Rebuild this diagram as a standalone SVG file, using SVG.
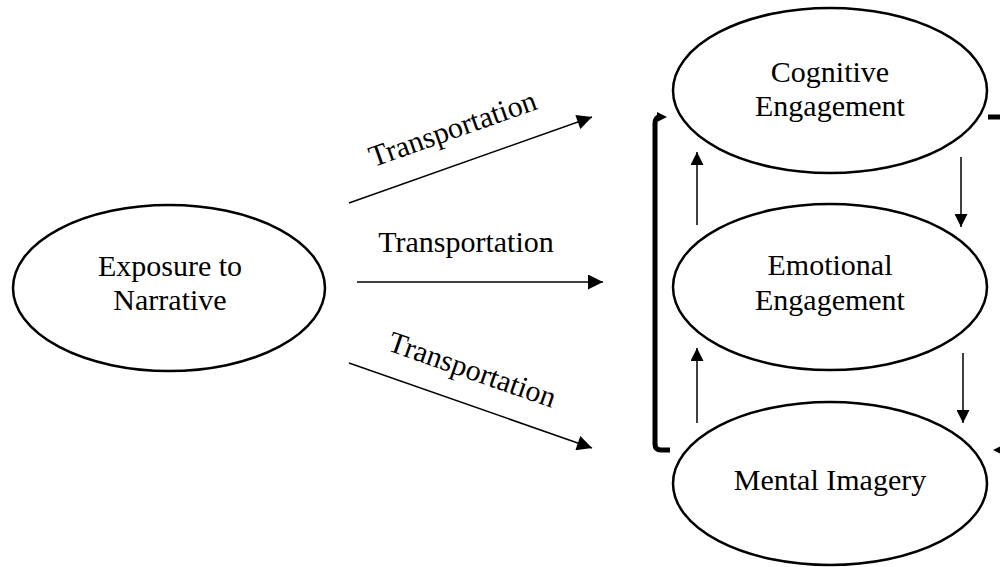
<svg xmlns="http://www.w3.org/2000/svg" width="1000" height="567" viewBox="0 0 1000 567">
  <style>
    .node ellipse { fill: #ffffff; stroke: #000000; stroke-width: 2.5; }
    text { font-family: "Liberation Serif", "Times New Roman", serif; font-size: 30px; fill: #000000; text-anchor: middle; }
    .arrow { fill: none; stroke: #000000; stroke-width: 1.5; }
    .thick { fill: none; stroke: #000000; stroke-width: 5; stroke-linejoin: round; }
  </style>
  <defs>
    <marker id="ahBig" viewBox="0 0 10 10" refX="10" refY="5" markerWidth="16" markerHeight="15" markerUnits="userSpaceOnUse" orient="auto">
      <path d="M0,0 L10,5 L0,10 z" fill="#000000"/>
    </marker>
    <marker id="ahSmall" viewBox="0 0 10 10" refX="10" refY="5" markerWidth="13" markerHeight="13" markerUnits="userSpaceOnUse" orient="auto">
      <path d="M0,0 L10,5 L0,10 z" fill="#000000"/>
    </marker>
    <marker id="ahBracket" viewBox="0 0 10 10" refX="3" refY="5" markerWidth="10" markerHeight="11" markerUnits="userSpaceOnUse" orient="auto" overflow="visible">
      <path d="M0,0 L10,5 L0,10 z" fill="#000000"/>
    </marker>
  </defs>

  <g id="connectors">
    <!-- Transportation arrows -->
    <line class="arrow" x1="349" y1="203" x2="592" y2="117" marker-end="url(#ahBig)"/>
    <line class="arrow" x1="357" y1="282" x2="603" y2="282" marker-end="url(#ahBig)"/>
    <line class="arrow" x1="349" y1="363" x2="592" y2="448" marker-end="url(#ahBig)"/>
    <text x="456" y="138" transform="rotate(-19.5 456 138)">Transportation</text>
    <text x="466" y="252">Transportation</text>
    <text x="469" y="379" transform="rotate(19.3 469 379)">Transportation</text>

    <!-- Upward arrows on the left -->
    <line class="arrow" x1="697" y1="225" x2="697" y2="152" marker-end="url(#ahSmall)"/>
    <line class="arrow" x1="697" y1="423" x2="697" y2="348" marker-end="url(#ahSmall)"/>
    <!-- Downward arrows on the right -->
    <line class="arrow" x1="961" y1="157" x2="961" y2="227" marker-end="url(#ahSmall)"/>
    <line class="arrow" x1="963" y1="353" x2="963" y2="423" marker-end="url(#ahSmall)"/>

    <!-- Left feedback bracket -->
    <path class="thick" d="M670,450 H661 Q655,450 655,444 V124 Q655,117 660,117" marker-end="url(#ahBracket)"/>
    <!-- Right feedback bracket -->
    <path class="thick" d="M988,117 H1006 V450 H1000" marker-end="url(#ahBracket)"/>
  </g>

  <g id="exposure" class="node">
    <ellipse cx="169" cy="288" rx="156" ry="83"/>
    <text x="170" y="276">Exposure to</text>
    <text x="170" y="310">Narrative</text>
  </g>

  <g id="cognitive" class="node">
    <ellipse cx="830" cy="90.5" rx="157" ry="82.5"/>
    <text x="830" y="82">Cognitive</text>
    <text x="830" y="116">Engagement</text>
  </g>

  <g id="emotional" class="node">
    <ellipse cx="830" cy="287" rx="157" ry="83"/>
    <text x="830" y="275">Emotional</text>
    <text x="830" y="310">Engagement</text>
  </g>

  <g id="mental" class="node">
    <ellipse cx="830" cy="483.5" rx="157" ry="81.5"/>
    <text x="830" y="490">Mental Imagery</text>
  </g>
</svg>
